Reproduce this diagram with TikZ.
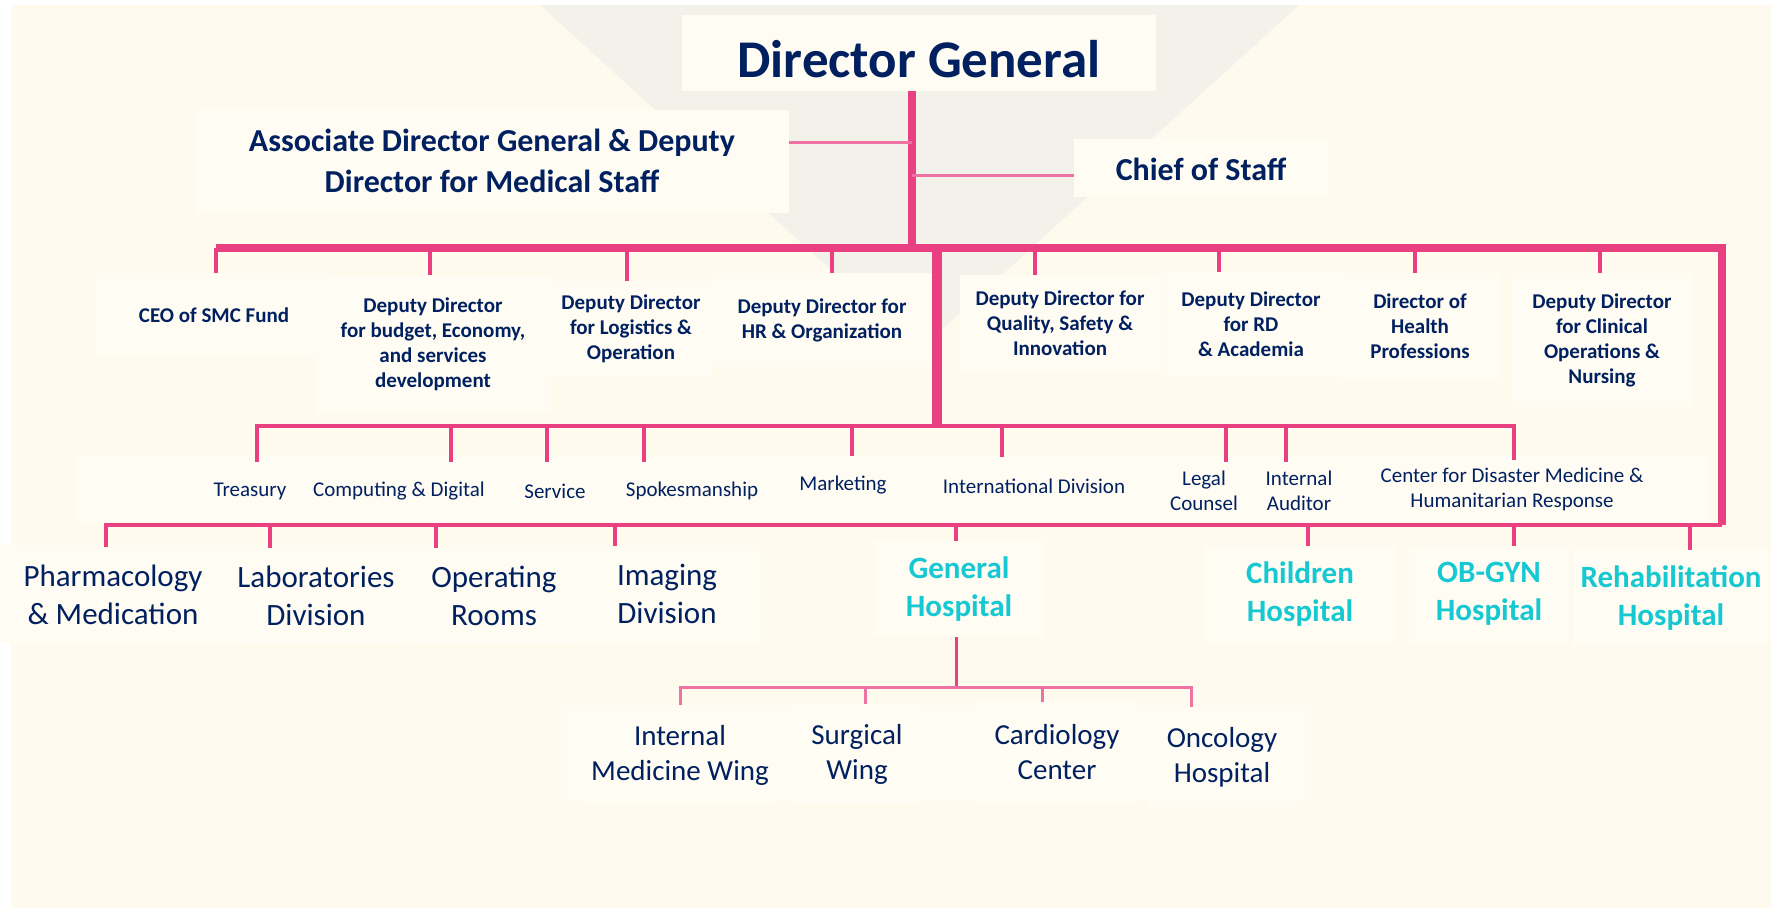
\documentclass[tikz,border=0pt]{standalone}
\usepackage{fontspec}
\setmainfont{Carlito}
\usetikzlibrary{positioning}
\definecolor{navy}{RGB}{0,32,96}
\definecolor{hospcyan}{RGB}{22,200,210}
\definecolor{barpink}{RGB}{232,64,128}
\definecolor{lightpink}{RGB}{238,115,162}
\definecolor{cream}{RGB}{254,250,238}
\definecolor{haze}{RGB}{242,242,234}
\definecolor{boxfill}{RGB}{255,252,243}
\pgfdeclarelayer{bg}
\pgfdeclarelayer{lines}
\pgfsetlayers{bg,lines,main}

\begin{document}
\begin{tikzpicture}[x=1pt, y=-1pt,
    every node/.style={text=navy, inner sep=0pt, align=center}]

    \tikzstyle{topbox}=[fill=boxfill, font=\bfseries\fontsize{32}{41}\selectfont]
    \tikzstyle{depbox}=[fill=boxfill, font=\bfseries\fontsize{21}{25}\selectfont]
    \tikzstyle{unitbox}=[fill=boxfill, minimum height=58pt, font=\fontsize{21}{25}\selectfont]
    \tikzstyle{divbox}=[fill=boxfill, minimum height=96pt, font=\fontsize{31}{38}\selectfont]
    \tikzstyle{hospbox}=[fill=boxfill, minimum height=96pt, text=hospcyan, font=\bfseries\fontsize{31}{38}\selectfont]
    \tikzstyle{wingbox}=[fill=boxfill, minimum height=100pt, font=\fontsize{29}{35}\selectfont]
    \tikzstyle{pinkbar}=[draw=barpink, line width=8.5pt, line join=miter]
    \tikzstyle{pinkline}=[draw=barpink, line width=3.5pt]
    \tikzstyle{thinline}=[draw=lightpink, line width=3pt]

    \useasboundingbox (0,0) rectangle (1781,913);

    % page ground and the grey wedge behind the top
    \begin{pgfonlayer}{bg}
        \fill[cream] (11,5) rectangle (1771,908);
        \fill[haze] (540,5) -- (1299,5) -- (919,350) -- cycle;
        \fill[boxfill] (78,455) rectangle (1707,522);
        \fill[boxfill] (0,545) rectangle (761,642);
        \fill[boxfill] (561,705) rectangle (1311,800);
    \end{pgfonlayer}

    \node[topbox, minimum width=474pt, text height=62pt, text depth=14pt,
        font=\bfseries\fontsize{53}{60}\selectfont] (dg) at (919,53) {Director General};
    \node[topbox, minimum width=594pt, minimum height=103pt] (assoc) at (492,161)
        {Associate Director General \& Deputy\\Director for Medical Staff};
    \node[topbox, minimum width=254pt, text height=41pt, text depth=17pt] (chief) at (1201,168) {Chief of Staff};

    \node[depbox, minimum width=238pt, minimum height=84pt] (ceo) at (214,315) {CEO of SMC Fund};
    \node[depbox, minimum width=235pt, minimum height=137pt] (budget) at (433,344)
        {Deputy Director\\for budget, Economy,\\and services\\development};
    \node[depbox, minimum width=161pt, minimum height=96pt] (logistics) at (631,329)
        {Deputy Director\\for Logistics \&\\Operation};
    \node[depbox, minimum width=220pt, minimum height=94pt] (hr) at (822,320)
        {Deputy Director for\\HR \& Organization};
    \node[depbox, minimum width=200pt, minimum height=96pt] (quality) at (1060,323)
        {Deputy Director for\\Quality, Safety \&\\Innovation};
    \node[depbox, minimum width=180pt, minimum height=104pt] (rd) at (1251,324)
        {Deputy Director\\for RD\\\& Academia};
    \node[depbox, minimum width=160pt, minimum height=106pt] (health) at (1420,326)
        {Director of\\Health\\Professions};
    \node[depbox, minimum width=180pt, minimum height=134pt] (clinical) at (1602,340)
        {Deputy Director\\for Clinical\\Operations \&\\Nursing};

    \node[unitbox, minimum width=110pt] (treasury) at (250,491) {Treasury};
    \node[unitbox, minimum width=185pt] (computing) at (399,491) {Computing \& Digital};
    \node[unitbox, minimum width=90pt] (service) at (555,491) {Service};
    \node[unitbox, minimum width=145pt] (spokes) at (692,491) {Spokesmanship};
    \node[unitbox, minimum width=110pt] (marketing) at (843,485) {Marketing};
    \node[unitbox, minimum width=190pt] (intl) at (1034,486) {International Division};
    \node[unitbox, minimum width=70pt] (legal) at (1204,491) {Legal\\Counsel};
    \node[unitbox, minimum width=85pt] (auditor) at (1299,491) {Internal\\Auditor};
    \node[unitbox, minimum width=300pt] (disaster) at (1512,489)
        {Center for Disaster Medicine \&\\Humanitarian Response};

    \node[divbox, minimum width=206pt] (pharma) at (113,595) {Pharmacology\\\& Medication};
    \node[divbox, minimum width=165pt] (labs) at (316,596) {Laboratories\\Division};
    \node[divbox, minimum width=160pt] (oprooms) at (494,596) {Operating\\Rooms};
    \node[divbox, minimum width=160pt] (imaging) at (667,594) {Imaging\\Division};

    \node[hospbox, minimum width=170pt] (general) at (959,589) {General\\Hospital};
    \node[hospbox, minimum width=190pt] (children) at (1300,594) {Children\\Hospital};
    \node[hospbox, minimum width=160pt] (obgyn) at (1489,594) {OB-GYN\\Hospital};
    \node[hospbox, minimum width=196pt] (rehab) at (1671,598) {Rehabilitation\\Hospital};

    \node[wingbox, minimum width=190pt] (internal) at (680,755) {Internal\\Medicine Wing};
    \node[wingbox, minimum width=130pt] (surgical) at (857,754) {Surgical\\Wing};
    \node[wingbox, minimum width=160pt] (cardiology) at (1057,752) {Cardiology\\Center};
    \node[wingbox, minimum width=150pt] (oncology) at (1222,757) {Oncology\\Hospital};

    % junctions on the bars
    \coordinate (hub) at (912,248);
    \coordinate (mainL) at (216,248);
    \coordinate (mainR) at (1722,248);
    \coordinate (assocjoin) at (912,142);
    \coordinate (chiefjoin) at (912,175);
    \coordinate (midhub) at (937,426);
    \coordinate (unitL) at (257,426);
    \coordinate (unitR) at (1514,426);
    \coordinate (divL) at (106,525);
    \coordinate (divR) at (1722,525);
    \coordinate (winghub) at (956,687);
    \coordinate (wingL) at (680,687);
    \coordinate (wingR) at (1191,687);

    \begin{pgfonlayer}{lines}
        \draw[pinkbar] (hub |- dg.south) -- (hub);
        \draw[thinline] (assocjoin) -- (assocjoin -| assoc.east);
        \draw[thinline] (chiefjoin) -- (chiefjoin -| chief.west);
        \draw[pinkbar] (mainL) -- (mainR) -- (divR);
        \draw[pinkbar, line width=10pt] (hub -| midhub) -- (midhub);

        \draw[pinkline] (ceo.north -| mainL) -- (mainL);
        \draw[pinkline] (430,0 |- hub) -- (430,0 |- budget.north);
        \draw[pinkline] (627,0 |- hub) -- (627,0 |- logistics.north);
        \draw[pinkline] (832,0 |- hub) -- (832,0 |- hr.north);
        \draw[pinkline] (1035,0 |- hub) -- (1035,0 |- quality.north);
        \draw[pinkline] (1219,0 |- hub) -- (1219,0 |- rd.north);
        \draw[pinkline] (1415,0 |- hub) -- (1415,0 |- health.north);
        \draw[pinkline] (1600,0 |- hub) -- (1600,0 |- clinical.north);

        \draw[pinkline, line width=4.5pt] (treasury.north -| unitL) -- (unitL) -- (unitR) -- (disaster.north -| unitR);
        \draw[pinkline] (451,0 |- midhub) -- (451,0 |- computing.north);
        \draw[pinkline] (547,0 |- midhub) -- (547,0 |- service.north);
        \draw[pinkline] (644,0 |- midhub) -- (644,0 |- spokes.north);
        \draw[pinkline] (852,0 |- midhub) -- (852,0 |- marketing.north);
        \draw[pinkline] (1002,0 |- midhub) -- (1002,0 |- intl.north);
        \draw[pinkline] (1226,0 |- midhub) -- (1226,0 |- legal.north);
        \draw[pinkline] (1286,0 |- midhub) -- (1286,0 |- auditor.north);

        \draw[pinkline, line width=4pt] (pharma.north -| divL) -- (divL) -- (divR);
        \draw[pinkline] (270,0 |- divL) -- (270,0 |- labs.north);
        \draw[pinkline] (436,0 |- divL) -- (436,0 |- oprooms.north);
        \draw[pinkline] (615,0 |- divL) -- (615,0 |- imaging.north);
        \draw[pinkline] (956,0 |- divL) -- (956,0 |- general.north);
        \draw[pinkline] (1308,0 |- divL) -- (1308,0 |- children.north);
        \draw[pinkline] (1514,0 |- divL) -- (1514,0 |- obgyn.north);
        \draw[pinkline] (1690,0 |- divL) -- (1690,0 |- rehab.north);

        \draw[thinline, draw=barpink] (general.south -| winghub) -- (winghub);
        \draw[thinline] (internal.north -| wingL) -- (wingL) -- (wingR) -- (oncology.north -| wingR);
        \draw[thinline] (865,0 |- winghub) -- (865,0 |- surgical.north);
        \draw[thinline] (1042,0 |- winghub) -- (1042,0 |- cardiology.north);
    \end{pgfonlayer}

\end{tikzpicture}
\end{document}
